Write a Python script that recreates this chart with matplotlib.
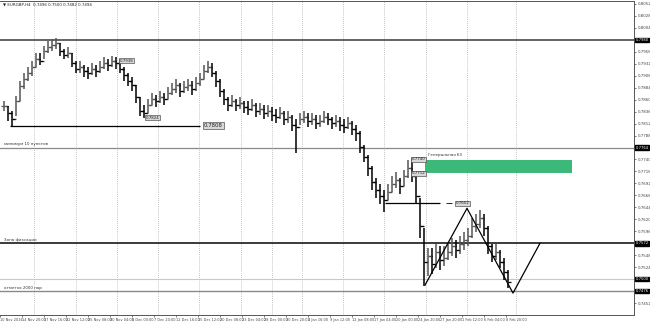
import numpy as np
import matplotlib
matplotlib.use('Agg')
import matplotlib.pyplot as plt

# H4 bars (high / low / close)
highs = [0.7858, 0.7848, 0.7838, 0.7868, 0.7898, 0.7914, 0.7926, 0.7938, 0.7954, 0.7954,
         0.7968, 0.7978, 0.7982, 0.7984, 0.7974, 0.7962, 0.7966, 0.7954, 0.7938, 0.7938,
         0.7930, 0.7926, 0.7934, 0.7930, 0.7938, 0.7946, 0.7942, 0.7948, 0.7946, 0.7942,
         0.7926, 0.7914, 0.7906, 0.7890, 0.7866, 0.7850, 0.7862, 0.7874, 0.7870, 0.7878,
         0.7874, 0.7886, 0.7894, 0.7902, 0.7894, 0.7898, 0.7902, 0.7898, 0.7906, 0.7914,
         0.7930, 0.7938, 0.7934, 0.7918, 0.7902, 0.7882, 0.7866, 0.7870, 0.7862, 0.7866,
         0.7858, 0.7858, 0.7862, 0.7854, 0.7854, 0.7850, 0.7850, 0.7846, 0.7842, 0.7846,
         0.7838, 0.7838, 0.7830, 0.7822, 0.7834, 0.7838, 0.7834, 0.7834, 0.7830, 0.7830,
         0.7838, 0.7834, 0.7826, 0.7830, 0.7826, 0.7822, 0.7826, 0.7818, 0.7810, 0.7798,
         0.7770, 0.7750, 0.7726, 0.7702, 0.7690, 0.7678, 0.7690, 0.7706, 0.7714, 0.7702,
         0.7718, 0.7738, 0.7742, 0.7710, 0.7662, 0.7602, 0.7562, 0.7562, 0.7570, 0.7566,
         0.7566, 0.7574, 0.7582, 0.7578, 0.7586, 0.7594, 0.7602, 0.7622, 0.7630, 0.7638,
         0.7630, 0.7606, 0.7570, 0.7570, 0.7558, 0.7542, 0.7518]
lows = [0.7838, 0.7818, 0.7808, 0.7828, 0.7858, 0.7882, 0.7898, 0.7908, 0.7926, 0.7930,
        0.7942, 0.7954, 0.7958, 0.7962, 0.7948, 0.7942, 0.7944, 0.7926, 0.7914, 0.7914,
        0.7906, 0.7902, 0.7910, 0.7906, 0.7914, 0.7922, 0.7918, 0.7926, 0.7922, 0.7914,
        0.7898, 0.7888, 0.7878, 0.7854, 0.7828, 0.7824, 0.7834, 0.7850, 0.7846, 0.7854,
        0.7850, 0.7862, 0.7870, 0.7874, 0.7866, 0.7874, 0.7878, 0.7870, 0.7878, 0.7888,
        0.7902, 0.7914, 0.7906, 0.7886, 0.7866, 0.7850, 0.7838, 0.7846, 0.7838, 0.7842,
        0.7834, 0.7830, 0.7838, 0.7826, 0.7830, 0.7822, 0.7826, 0.7818, 0.7814, 0.7822,
        0.7810, 0.7814, 0.7798, 0.7754, 0.7810, 0.7814, 0.7806, 0.7810, 0.7802, 0.7806,
        0.7814, 0.7810, 0.7802, 0.7806, 0.7798, 0.7794, 0.7802, 0.7790, 0.7778, 0.7754,
        0.7734, 0.7706, 0.7678, 0.7662, 0.7650, 0.7634, 0.7658, 0.7674, 0.7682, 0.7670,
        0.7686, 0.7702, 0.7694, 0.7650, 0.7582, 0.7486, 0.7506, 0.7510, 0.7522, 0.7518,
        0.7526, 0.7538, 0.7546, 0.7542, 0.7550, 0.7558, 0.7566, 0.7582, 0.7594, 0.7602,
        0.7586, 0.7550, 0.7534, 0.7538, 0.7522, 0.7498, 0.7482]
closes = [0.7848, 0.7834, 0.7822, 0.7858, 0.7888, 0.7902, 0.7914, 0.7926, 0.7942, 0.7938,
          0.7958, 0.7966, 0.7970, 0.7974, 0.7958, 0.7950, 0.7954, 0.7934, 0.7922, 0.7926,
          0.7918, 0.7914, 0.7922, 0.7918, 0.7926, 0.7934, 0.7930, 0.7938, 0.7934, 0.7922,
          0.7910, 0.7898, 0.7890, 0.7866, 0.7838, 0.7834, 0.7850, 0.7862, 0.7858, 0.7866,
          0.7862, 0.7874, 0.7882, 0.7890, 0.7878, 0.7886, 0.7890, 0.7882, 0.7894, 0.7902,
          0.7918, 0.7926, 0.7914, 0.7898, 0.7878, 0.7862, 0.7850, 0.7858, 0.7850, 0.7854,
          0.7846, 0.7842, 0.7850, 0.7838, 0.7842, 0.7834, 0.7838, 0.7830, 0.7826, 0.7834,
          0.7822, 0.7826, 0.7810, 0.7806, 0.7822, 0.7826, 0.7818, 0.7822, 0.7814, 0.7818,
          0.7826, 0.7822, 0.7814, 0.7818, 0.7810, 0.7806, 0.7814, 0.7802, 0.7794, 0.7766,
          0.7746, 0.7722, 0.7694, 0.7678, 0.7666, 0.7658, 0.7674, 0.7690, 0.7698, 0.7686,
          0.7706, 0.7722, 0.7706, 0.7666, 0.7606, 0.7534, 0.7546, 0.7530, 0.7554, 0.7538,
          0.7542, 0.7554, 0.7566, 0.7558, 0.7570, 0.7578, 0.7586, 0.7606, 0.7610, 0.7622,
          0.7602, 0.7566, 0.7546, 0.7554, 0.7534, 0.7514, 0.7494]

date_labels = ['10 Nov 2016', '14 Nov 20:00', '17 Nov 16:00', '22 Nov 12:00', '25 Nov 08:00',
               '30 Nov 04:00', '5 Dec 00:00', '7 Dec 20:00', '12 Dec 16:00', '15 Dec 12:00',
               '20 Dec 08:00', '23 Dec 04:00', '28 Dec 00:00', '30 Dec 20:00', '4 Jan 16:00',
               '9 Jan 12:00', '12 Jan 08:00', '17 Jan 04:00', '20 Jan 00:00', '24 Jan 20:00',
               '27 Jan 20:00', '1 Feb 12:00', '6 Feb 04:00', '8 Feb 20:00']

# drawn objects
levels = [0.7980, 0.7764, 0.7572, 0.7500, 0.7476]
level_colors = ['#3a3a3a', '#8a8a8a', '#3a3a3a', '#c8c8c8', '#8a8a8a']
level_widths = [1.1, 0.9, 1.4, 0.8, 1.0]
level_notes = ['', 'минимум 10 пунктов', 'Зона фиксации', '', 'отметка 2000 пар']
zig_x = [105.25, 115.75, 127.25, 134.0]
zig_y = [0.7488, 0.7642, 0.7472, 0.7572]
zone_x = [105.25, 142.0]
zone_y = [0.7712, 0.7738]
grid_x = [7.5, 18, 28.25, 38.5, 48.75, 59.25, 67, 74.5, 84.75, 95, 105.5, 115.75, 128]

fs = 2.9
fig = plt.figure(figsize=(6.5, 3.23), dpi=100)
ax = fig.add_axes([0.0, 8/323, 634/650, 314/323])
ax.set_xlim(-1, 157.5)
ax.set_ylim(0.7428, 0.8058)

for g in grid_x:
    ax.axvline(g, color='#b0b0b0', lw=0.6, ls=(0, (1, 1.5)), zorder=0)

idx = np.arange(len(closes))
opens = [closes[0]] + closes[:-1]
cols = ['#555555' if c >= o else 'black' for o, c in zip(opens, closes)]
ax.vlines(idx, lows, highs, colors=cols, lw=1.1, zorder=3)
ax.hlines(opens, idx - 0.7, idx, colors=cols, lw=0.9, zorder=3)
ax.hlines(closes, idx, idx + 0.7, colors=cols, lw=0.9, zorder=3)

for lv, c, w, note in zip(levels, level_colors, level_widths, level_notes):
    ax.axhline(lv, color=c, lw=w, zorder=2)
    if note:
        ax.text(0, lv + 0.0003, note, fontsize=fs, color='#333333', va='bottom', ha='left')
    ax.text(1.002, lv, '%.4f' % lv, transform=ax.get_yaxis_transform(), fontsize=fs - 0.2,
            color='white', va='center', ha='left', zorder=6,
            bbox=dict(boxstyle='square,pad=0.1', fc='black', ec='black'))

# short level lines with price tags
ax.hlines(0.7808, 1.5, 49, color='black', lw=0.9, zorder=2)
ax.hlines(0.7652, 95.25, 109, color='black', lw=0.9, zorder=2)
ax.hlines(0.7652, 110.5, 112, color='black', lw=0.6, zorder=2)
tags = [(50, 0.7808, '0.7808'), (113, 0.7652, '0.7652'), (29, 0.7938, '0.7938'),
        (35.5, 0.7824, '0.7824'), (102, 0.7740, '0.7740'), (102, 0.7712, '0.7712')]
for tx, ty, s in tags:
    ax.text(tx, ty, s, fontsize=fs + 1.0 if s == '0.7808' else fs, color='#222222',
            va='center', ha='left', zorder=5,
            bbox=dict(boxstyle='square,pad=0.15', fc='#d8d8d8', ec='#555555', lw=0.5))

ax.fill_between(zone_x, zone_y[0], zone_y[1], color='#3cb878', lw=0, zorder=4)
ax.text(106, 0.7745, 'Генеральная 63', fontsize=fs, color='#333333', va='bottom', ha='left')

ax.plot(zig_x, zig_y, color='black', lw=0.9, zorder=4)

ax.text(0.005, 0.995, '▼ EURGBP,H4  0.7496 0.7500 0.7482 0.7494', transform=ax.transAxes,
        fontsize=fs, color='#222222', va='top', ha='left')

# axes look: skip plain ticks hidden behind the level tags
ax.yaxis.tick_right()
yt = [v for v in np.arange(0.8052, 0.7430, -0.0024) if min(abs(v - l) for l in levels) > 0.0011]
ax.set_yticks(yt)
ax.set_yticklabels(['%.4f' % v for v in yt])
xt = np.arange(len(date_labels)) * 5.5 - 1
ax.set_xticks(xt)
ax.set_xticklabels(date_labels, ha='left')
ax.tick_params(axis='both', labelsize=fs, colors='#444444', length=1.5, width=0.5, pad=1)
ax.tick_params(axis='x', labelsize=2.5)
for s in ax.spines.values():
    s.set_color('#555555')
    s.set_linewidth(0.7)
ax.spines['left'].set_visible(False)

fig.savefig('out.png', dpi=100)
